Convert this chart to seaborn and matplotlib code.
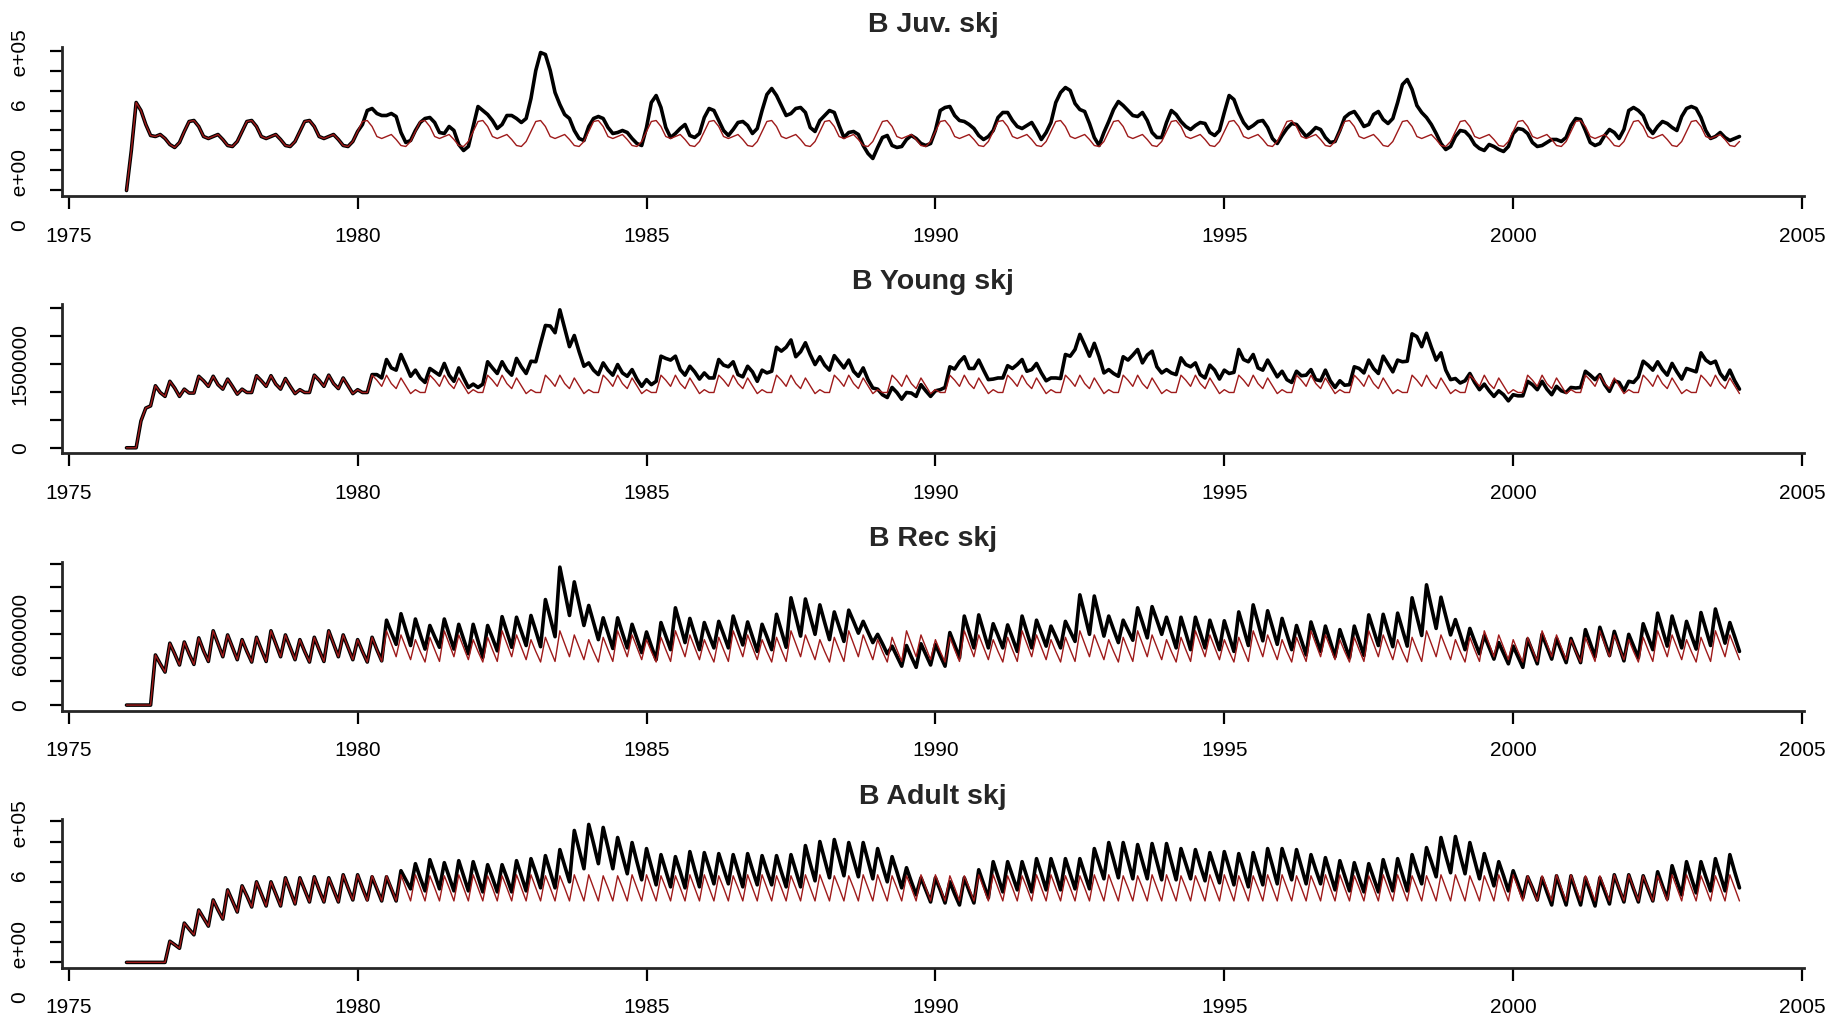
import numpy as np
import pandas as pd
import seaborn as sns
import matplotlib
matplotlib.use("Agg")
import matplotlib.pyplot as plt


#%% Data: monthly biomass, Jan 1976 - Dec 2003
# black = observed run, red = model run; identical for 1976-1979

Start_Year = 1976

# Juveniles (units of 1e5)
Juv_1976_1979 = [
    0.0, 2.0, 4.4, 4.0, 3.3, 2.75, 2.7, 2.8, 2.6, 2.3, 2.15, 2.4,
    2.95, 3.45, 3.5, 3.2, 2.7, 2.6, 2.7, 2.8, 2.55, 2.25, 2.2, 2.45,
    2.95, 3.45, 3.5, 3.2, 2.7, 2.6, 2.7, 2.8, 2.55, 2.25, 2.2, 2.45,
    2.95, 3.45, 3.5, 3.2, 2.7, 2.6, 2.7, 2.8, 2.55, 2.25, 2.2, 2.45,
]

Juv_Model_1980_2003 = [
    2.95, 3.45, 3.5, 3.2, 2.7, 2.6, 2.7, 2.8, 2.55, 2.25, 2.2, 2.45,
    2.95, 3.45, 3.5, 3.2, 2.7, 2.6, 2.7, 2.8, 2.55, 2.25, 2.2, 2.45,
    2.95, 3.45, 3.5, 3.2, 2.7, 2.6, 2.7, 2.8, 2.55, 2.25, 2.2, 2.45,
    2.95, 3.45, 3.5, 3.2, 2.7, 2.6, 2.7, 2.8, 2.55, 2.25, 2.2, 2.45,
    2.95, 3.45, 3.5, 3.2, 2.7, 2.6, 2.7, 2.8, 2.55, 2.25, 2.2, 2.45,
    2.95, 3.45, 3.5, 3.2, 2.7, 2.6, 2.7, 2.8, 2.55, 2.25, 2.2, 2.45,
    2.95, 3.45, 3.5, 3.2, 2.7, 2.6, 2.7, 2.8, 2.55, 2.25, 2.2, 2.45,
    2.95, 3.45, 3.5, 3.2, 2.7, 2.6, 2.7, 2.8, 2.55, 2.25, 2.2, 2.45,
    2.95, 3.45, 3.5, 3.2, 2.7, 2.6, 2.7, 2.8, 2.55, 2.25, 2.2, 2.45,
    2.95, 3.45, 3.5, 3.2, 2.7, 2.6, 2.7, 2.8, 2.55, 2.25, 2.2, 2.45,
    2.95, 3.45, 3.5, 3.2, 2.7, 2.6, 2.7, 2.8, 2.55, 2.25, 2.2, 2.45,
    2.95, 3.45, 3.5, 3.2, 2.7, 2.6, 2.7, 2.8, 2.55, 2.25, 2.2, 2.45,
    2.95, 3.45, 3.5, 3.2, 2.7, 2.6, 2.7, 2.8, 2.55, 2.25, 2.2, 2.45,
    2.95, 3.45, 3.5, 3.2, 2.7, 2.6, 2.7, 2.8, 2.55, 2.25, 2.2, 2.45,
    2.95, 3.45, 3.5, 3.2, 2.7, 2.6, 2.7, 2.8, 2.55, 2.25, 2.2, 2.45,
    2.95, 3.45, 3.5, 3.2, 2.7, 2.6, 2.7, 2.8, 2.55, 2.25, 2.2, 2.45,
    2.95, 3.45, 3.5, 3.2, 2.7, 2.6, 2.7, 2.8, 2.55, 2.25, 2.2, 2.45,
    2.95, 3.45, 3.5, 3.2, 2.7, 2.6, 2.7, 2.8, 2.55, 2.25, 2.2, 2.45,
    2.95, 3.45, 3.5, 3.2, 2.7, 2.6, 2.7, 2.8, 2.55, 2.25, 2.2, 2.45,
    2.95, 3.45, 3.5, 3.2, 2.7, 2.6, 2.7, 2.8, 2.55, 2.25, 2.2, 2.45,
    2.95, 3.45, 3.5, 3.2, 2.7, 2.6, 2.7, 2.8, 2.55, 2.25, 2.2, 2.45,
    2.95, 3.45, 3.5, 3.2, 2.7, 2.6, 2.7, 2.8, 2.55, 2.25, 2.2, 2.45,
    2.95, 3.45, 3.5, 3.2, 2.7, 2.6, 2.7, 2.8, 2.55, 2.25, 2.2, 2.45,
    2.95, 3.45, 3.5, 3.2, 2.7, 2.6, 2.7, 2.8, 2.55, 2.25, 2.2, 2.45,
]

Juv_Obs_1980_2003 = [
    2.95, 3.3, 4.0, 4.1, 3.85, 3.75, 3.75, 3.85, 3.7, 2.9, 2.4, 2.5,
    3.0, 3.4, 3.6, 3.65, 3.4, 2.9, 2.85, 3.2, 3.0, 2.3, 2.0, 2.2,
    3.2, 4.2, 4.0, 3.8, 3.5, 3.1, 3.3, 3.75, 3.75, 3.6, 3.4, 3.6,
    4.6, 6.0, 6.9, 6.8, 6.0, 4.9, 4.3, 3.8, 3.6, 3.0, 2.6, 2.5,
    3.2, 3.6, 3.7, 3.6, 3.15, 2.85, 2.9, 3.0, 2.9, 2.6, 2.35, 2.25,
    3.15, 4.4, 4.75, 4.15, 3.15, 2.65, 2.85, 3.1, 3.3, 2.75, 2.65, 2.85,
    3.65, 4.1, 4.0, 3.5, 3.0, 2.75, 3.05, 3.4, 3.45, 3.25, 2.85, 3.1,
    4.0, 4.8, 5.1, 4.75, 4.25, 3.75, 3.85, 4.1, 4.15, 3.9, 3.15, 2.95,
    3.5, 3.75, 4.0, 3.9, 3.25, 2.65, 2.9, 2.95, 2.8, 2.25, 1.85, 1.6,
    2.15, 2.65, 2.75, 2.25, 2.15, 2.2, 2.55, 2.75, 2.6, 2.35, 2.25, 2.35,
    3.0, 4.0, 4.15, 4.2, 3.75, 3.5, 3.45, 3.3, 3.1, 2.75, 2.55, 2.7,
    3.0, 3.65, 3.9, 3.9, 3.5, 3.2, 3.1, 3.25, 3.4, 3.0, 2.55, 2.9,
    3.4, 4.4, 4.9, 5.15, 5.0, 4.35, 4.05, 3.95, 3.35, 2.65, 2.25, 2.9,
    3.45, 4.05, 4.45, 4.25, 4.0, 3.75, 3.7, 3.9, 3.5, 2.9, 2.65, 2.65,
    3.4, 4.0, 3.8, 3.45, 3.2, 3.05, 3.25, 3.4, 3.35, 2.9, 2.75, 3.0,
    3.9, 4.75, 4.55, 3.9, 3.4, 3.1, 3.25, 3.45, 3.5, 3.15, 2.6, 2.35,
    2.75, 3.1, 3.35, 3.3, 3.0, 2.7, 2.9, 3.15, 3.05, 2.65, 2.4, 2.45,
    3.0, 3.65, 3.85, 3.95, 3.6, 3.2, 3.3, 3.8, 3.95, 3.55, 3.35, 3.6,
    4.4, 5.3, 5.55, 5.05, 4.25, 3.9, 3.65, 3.3, 2.85, 2.35, 2.05, 2.2,
    2.7, 3.0, 2.95, 2.7, 2.3, 2.1, 2.0, 2.3, 2.2, 2.05, 1.95, 2.2,
    2.85, 3.1, 3.05, 2.85, 2.4, 2.2, 2.25, 2.4, 2.55, 2.55, 2.45, 2.65,
    3.25, 3.6, 3.55, 3.0, 2.4, 2.25, 2.35, 2.75, 3.05, 2.9, 2.6, 3.05,
    4.0, 4.15, 4.0, 3.75, 3.15, 2.85, 3.2, 3.45, 3.35, 3.15, 3.0, 3.7,
    4.1, 4.2, 4.1, 3.65, 3.0, 2.6, 2.7, 2.9, 2.65, 2.5, 2.6, 2.7,
]

# Young (units of 1e5)
Young_1976_1979 = [
    0.0, 0.0, 0.0, 4.8, 7.1, 7.5, 11.1, 9.9, 9.2, 11.9, 10.7, 9.2,
    10.5, 9.8, 9.8, 12.8, 12.0, 11.0, 12.8, 11.3, 10.5, 12.3, 11.0, 9.6,
    10.5, 9.9, 9.9, 12.9, 12.0, 11.0, 12.9, 11.4, 10.5, 12.4, 11.0, 9.7,
    10.4, 9.9, 9.9, 13.0, 12.1, 11.0, 13.0, 11.5, 10.6, 12.5, 11.1, 9.7,
]

Young_Model_1980_2003 = [
    10.4, 9.9, 9.9, 13.0, 12.1, 11.0, 13.0, 11.5, 10.6, 12.5, 11.1, 9.7,
    10.4, 9.9, 9.9, 13.0, 12.1, 11.0, 13.0, 11.5, 10.6, 12.5, 11.1, 9.7,
    10.4, 9.9, 9.9, 13.0, 12.1, 11.0, 13.0, 11.5, 10.6, 12.5, 11.1, 9.7,
    10.4, 9.9, 9.9, 13.0, 12.1, 11.0, 13.0, 11.5, 10.6, 12.5, 11.1, 9.7,
    10.4, 9.9, 9.9, 13.0, 12.1, 11.0, 13.0, 11.5, 10.6, 12.5, 11.1, 9.7,
    10.4, 9.9, 9.9, 13.0, 12.1, 11.0, 13.0, 11.5, 10.6, 12.5, 11.1, 9.7,
    10.4, 9.9, 9.9, 13.0, 12.1, 11.0, 13.0, 11.5, 10.6, 12.5, 11.1, 9.7,
    10.4, 9.9, 9.9, 13.0, 12.1, 11.0, 13.0, 11.5, 10.6, 12.5, 11.1, 9.7,
    10.4, 9.9, 9.9, 13.0, 12.1, 11.0, 13.0, 11.5, 10.6, 12.5, 11.1, 9.7,
    10.4, 9.9, 9.9, 13.0, 12.1, 11.0, 13.0, 11.5, 10.6, 12.5, 11.1, 9.7,
    10.4, 9.9, 9.9, 13.0, 12.1, 11.0, 13.0, 11.5, 10.6, 12.5, 11.1, 9.7,
    10.4, 9.9, 9.9, 13.0, 12.1, 11.0, 13.0, 11.5, 10.6, 12.5, 11.1, 9.7,
    10.4, 9.9, 9.9, 13.0, 12.1, 11.0, 13.0, 11.5, 10.6, 12.5, 11.1, 9.7,
    10.4, 9.9, 9.9, 13.0, 12.1, 11.0, 13.0, 11.5, 10.6, 12.5, 11.1, 9.7,
    10.4, 9.9, 9.9, 13.0, 12.1, 11.0, 13.0, 11.5, 10.6, 12.5, 11.1, 9.7,
    10.4, 9.9, 9.9, 13.0, 12.1, 11.0, 13.0, 11.5, 10.6, 12.5, 11.1, 9.7,
    10.4, 9.9, 9.9, 13.0, 12.1, 11.0, 13.0, 11.5, 10.6, 12.5, 11.1, 9.7,
    10.4, 9.9, 9.9, 13.0, 12.1, 11.0, 13.0, 11.5, 10.6, 12.5, 11.1, 9.7,
    10.4, 9.9, 9.9, 13.0, 12.1, 11.0, 13.0, 11.5, 10.6, 12.5, 11.1, 9.7,
    10.4, 9.9, 9.9, 13.0, 12.1, 11.0, 13.0, 11.5, 10.6, 12.5, 11.1, 9.7,
    10.4, 9.9, 9.9, 13.0, 12.1, 11.0, 13.0, 11.5, 10.6, 12.5, 11.1, 9.7,
    10.4, 9.9, 9.9, 13.0, 12.1, 11.0, 13.0, 11.5, 10.6, 12.5, 11.1, 9.7,
    10.4, 9.9, 9.9, 13.0, 12.1, 11.0, 13.0, 11.5, 10.6, 12.5, 11.1, 9.7,
    10.4, 9.9, 9.9, 13.0, 12.1, 11.0, 13.0, 11.5, 10.6, 12.5, 11.1, 9.7,
]

Young_Obs_1980_2003 = [
    10.4, 9.9, 9.9, 13.1, 13.1, 12.5, 15.8, 14.3, 13.9, 16.7, 14.8, 12.8,
    13.9, 12.5, 11.7, 14.2, 13.6, 13.0, 15.1, 13.0, 11.9, 14.3, 12.5, 10.8,
    11.4, 10.8, 11.4, 15.4, 14.3, 13.3, 15.4, 13.9, 13.0, 16.0, 14.5, 13.3,
    15.5, 15.4, 18.7, 21.9, 21.8, 20.6, 24.7, 21.4, 18.1, 20.1, 17.2, 14.6,
    15.2, 13.9, 13.1, 15.2, 13.9, 13.0, 14.9, 13.4, 12.8, 14.0, 12.3, 11.0,
    12.2, 11.3, 11.9, 16.4, 16.0, 15.7, 16.4, 14.0, 13.0, 14.6, 13.6, 12.3,
    13.4, 12.5, 12.5, 15.8, 14.8, 14.5, 15.4, 13.1, 12.7, 14.6, 13.6, 11.9,
    13.9, 13.4, 13.7, 18.0, 17.3, 18.0, 19.3, 16.3, 17.2, 18.8, 16.7, 14.9,
    16.3, 14.8, 13.9, 16.5, 15.4, 14.3, 15.7, 13.7, 12.8, 14.3, 12.2, 10.7,
    10.5, 9.5, 9.0, 10.8, 9.9, 8.7, 9.9, 9.8, 9.2, 11.3, 10.2, 9.2,
    10.2, 10.4, 10.8, 14.5, 14.1, 15.4, 16.3, 14.2, 14.2, 15.7, 13.9, 12.2,
    12.3, 12.5, 12.5, 14.7, 14.2, 14.9, 15.8, 13.7, 14.0, 15.1, 13.4, 12.0,
    12.5, 12.5, 12.4, 16.7, 16.4, 17.6, 20.3, 18.4, 16.4, 18.7, 16.3, 13.4,
    14.0, 13.3, 12.8, 16.3, 15.7, 16.6, 17.6, 15.2, 16.6, 17.3, 14.5, 13.4,
    14.0, 13.4, 13.1, 16.1, 14.9, 14.5, 15.2, 13.1, 12.5, 14.8, 13.9, 12.3,
    13.9, 13.3, 13.5, 17.6, 15.8, 15.4, 16.7, 14.3, 13.9, 15.7, 14.2, 12.7,
    13.7, 12.2, 11.7, 13.7, 12.9, 13.0, 14.0, 12.2, 12.0, 13.9, 12.0, 10.8,
    12.0, 11.2, 11.3, 14.5, 14.2, 13.4, 15.7, 14.2, 13.3, 16.4, 15.0, 13.6,
    15.7, 15.4, 15.5, 20.4, 19.9, 18.1, 20.5, 18.0, 15.7, 17.0, 13.9, 12.2,
    12.4, 11.6, 12.0, 13.3, 11.7, 10.4, 11.4, 10.2, 9.2, 10.2, 9.5, 8.4,
    9.5, 9.3, 9.3, 11.9, 11.3, 10.4, 11.9, 10.5, 9.5, 11.0, 10.2, 9.9,
    10.8, 10.7, 10.8, 13.7, 13.0, 12.2, 13.1, 11.3, 10.1, 12.0, 11.7, 10.2,
    11.9, 11.7, 12.7, 15.5, 14.8, 13.9, 15.4, 14.0, 13.0, 15.1, 13.6, 12.3,
    14.2, 13.9, 13.6, 17.0, 15.7, 15.1, 15.5, 13.3, 12.2, 13.9, 12.0, 10.5,
]

# Recruits (units of 1e6)
Rec_1976_1979 = [
    0.0, 0.0, 0.0, 0.0, 0.0, 0.0, 4.25, 3.5, 2.8, 5.25, 4.35, 3.4,
    5.35, 4.35, 3.45, 5.7, 4.6, 3.7, 6.3, 5.2, 4.1, 5.95, 4.9, 3.85,
    5.55, 4.55, 3.65, 5.75, 4.7, 3.7, 6.3, 5.2, 4.1, 5.95, 4.9, 3.85,
    5.55, 4.55, 3.65, 5.75, 4.7, 3.7, 6.3, 5.2, 4.1, 5.95, 4.9, 3.85,
]

Rec_Model_1980_2003 = [
    5.55, 4.55, 3.65, 5.75, 4.7, 3.7, 6.3, 5.2, 4.1, 5.95, 4.9, 3.85,
    5.55, 4.55, 3.65, 5.75, 4.7, 3.7, 6.3, 5.2, 4.1, 5.95, 4.9, 3.85,
    5.55, 4.55, 3.65, 5.75, 4.7, 3.7, 6.3, 5.2, 4.1, 5.95, 4.9, 3.85,
    5.55, 4.55, 3.65, 5.75, 4.7, 3.7, 6.3, 5.2, 4.1, 5.95, 4.9, 3.85,
    5.55, 4.55, 3.65, 5.75, 4.7, 3.7, 6.3, 5.2, 4.1, 5.95, 4.9, 3.85,
    5.55, 4.55, 3.65, 5.75, 4.7, 3.7, 6.3, 5.2, 4.1, 5.95, 4.9, 3.85,
    5.55, 4.55, 3.65, 5.75, 4.7, 3.7, 6.3, 5.2, 4.1, 5.95, 4.9, 3.85,
    5.55, 4.55, 3.65, 5.75, 4.7, 3.7, 6.3, 5.2, 4.1, 5.95, 4.9, 3.85,
    5.55, 4.55, 3.65, 5.75, 4.7, 3.7, 6.3, 5.2, 4.1, 5.95, 4.9, 3.85,
    5.55, 4.55, 3.65, 5.75, 4.7, 3.7, 6.3, 5.2, 4.1, 5.95, 4.9, 3.85,
    5.55, 4.55, 3.65, 5.75, 4.7, 3.7, 6.3, 5.2, 4.1, 5.95, 4.9, 3.85,
    5.55, 4.55, 3.65, 5.75, 4.7, 3.7, 6.3, 5.2, 4.1, 5.95, 4.9, 3.85,
    5.55, 4.55, 3.65, 5.75, 4.7, 3.7, 6.3, 5.2, 4.1, 5.95, 4.9, 3.85,
    5.55, 4.55, 3.65, 5.75, 4.7, 3.7, 6.3, 5.2, 4.1, 5.95, 4.9, 3.85,
    5.55, 4.55, 3.65, 5.75, 4.7, 3.7, 6.3, 5.2, 4.1, 5.95, 4.9, 3.85,
    5.55, 4.55, 3.65, 5.75, 4.7, 3.7, 6.3, 5.2, 4.1, 5.95, 4.9, 3.85,
    5.55, 4.55, 3.65, 5.75, 4.7, 3.7, 6.3, 5.2, 4.1, 5.95, 4.9, 3.85,
    5.55, 4.55, 3.65, 5.75, 4.7, 3.7, 6.3, 5.2, 4.1, 5.95, 4.9, 3.85,
    5.55, 4.55, 3.65, 5.75, 4.7, 3.7, 6.3, 5.2, 4.1, 5.95, 4.9, 3.85,
    5.55, 4.55, 3.65, 5.75, 4.7, 3.7, 6.3, 5.2, 4.1, 5.95, 4.9, 3.85,
    5.55, 4.55, 3.65, 5.75, 4.7, 3.7, 6.3, 5.2, 4.1, 5.95, 4.9, 3.85,
    5.55, 4.55, 3.65, 5.75, 4.7, 3.7, 6.3, 5.2, 4.1, 5.95, 4.9, 3.85,
    5.55, 4.55, 3.65, 5.75, 4.7, 3.7, 6.3, 5.2, 4.1, 5.95, 4.9, 3.85,
    5.55, 4.55, 3.65, 5.75, 4.7, 3.7, 6.3, 5.2, 4.1, 5.95, 4.9, 3.85,
]

Rec_Obs_1980_2003 = [
    5.55, 4.55, 3.65, 5.75, 4.7, 3.75, 7.2, 6.15, 5.15, 7.75, 6.4, 5.05,
    7.3, 6.0, 4.75, 6.75, 5.8, 4.9, 7.3, 6.0, 4.75, 6.85, 5.6, 4.35,
    6.85, 5.45, 4.05, 6.75, 5.7, 4.6, 7.5, 6.2, 4.9, 7.45, 6.25, 5.05,
    7.6, 6.3, 4.95, 8.95, 7.4, 5.8, 11.7, 9.65, 7.6, 10.45, 8.6, 6.75,
    8.45, 7.0, 5.55, 7.4, 6.1, 4.8, 7.4, 6.1, 4.85, 6.85, 5.65, 4.45,
    6.2, 5.0, 3.85, 7.0, 5.85, 4.7, 8.25, 6.8, 5.3, 7.35, 6.0, 4.7,
    7.0, 5.9, 4.85, 7.1, 6.0, 4.85, 7.55, 6.3, 5.1, 7.05, 5.8, 4.55,
    6.85, 5.8, 4.7, 7.7, 6.3, 4.9, 9.1, 7.5, 5.85, 9.0, 7.5, 6.0,
    8.5, 7.0, 5.55, 7.9, 6.65, 5.4, 8.05, 7.1, 6.1, 7.1, 6.2, 5.3,
    6.0, 5.2, 4.35, 5.0, 4.15, 3.3, 5.05, 4.1, 3.2, 5.2, 4.3, 3.4,
    5.15, 4.2, 3.3, 6.15, 5.1, 4.0, 7.55, 6.2, 4.85, 7.65, 6.25, 4.85,
    6.9, 5.9, 4.85, 6.8, 5.7, 4.55, 7.55, 6.2, 4.85, 7.2, 6.1, 5.0,
    6.7, 5.8, 4.85, 7.1, 6.25, 5.4, 9.35, 7.7, 6.0, 9.25, 7.55, 5.85,
    7.55, 6.4, 5.3, 7.2, 6.35, 5.5, 8.25, 7.0, 5.7, 8.35, 7.2, 6.0,
    7.45, 6.15, 4.85, 7.45, 6.1, 4.7, 7.45, 6.15, 4.85, 7.2, 5.95, 4.7,
    7.15, 5.85, 4.55, 7.9, 6.5, 5.05, 8.5, 7.0, 5.45, 8.0, 6.6, 5.15,
    7.35, 6.0, 4.7, 6.75, 5.5, 4.25, 7.05, 5.8, 4.55, 6.7, 5.4, 4.1,
    6.4, 5.2, 4.0, 6.7, 5.45, 4.2, 7.65, 6.35, 5.05, 7.7, 6.3, 4.95,
    7.8, 6.4, 5.0, 9.1, 7.5, 5.9, 10.2, 8.35, 6.5, 9.15, 7.55, 5.95,
    7.25, 6.0, 4.7, 6.5, 5.4, 4.35, 5.9, 4.9, 3.9, 5.3, 4.4, 3.5,
    5.0, 4.1, 3.2, 5.6, 4.55, 3.5, 6.0, 4.95, 3.9, 5.65, 4.6, 3.6,
    5.65, 4.6, 3.6, 6.4, 5.25, 4.1, 6.6, 5.4, 4.2, 6.25, 5.0, 3.75,
    6.0, 5.0, 4.0, 6.9, 5.8, 4.7, 7.8, 6.4, 5.0, 7.55, 6.2, 4.85,
    7.1, 5.9, 4.75, 7.85, 6.45, 5.05, 8.15, 6.7, 5.25, 7.0, 5.8, 4.55,
]

# Adults (units of 1e5)
Adult_1976_1979 = [
    0.0, 0.0, 0.0, 0.0, 0.0, 0.0, 0.0, 0.0, 0.0, 1.05, 0.88, 0.7,
    1.95, 1.65, 1.37, 2.6, 2.2, 1.8, 3.1, 2.6, 2.15, 3.6, 3.05, 2.5,
    3.8, 3.3, 2.75, 4.0, 3.4, 2.8, 4.0, 3.4, 2.8, 4.2, 3.55, 2.9,
    4.2, 3.6, 3.0, 4.25, 3.6, 3.0, 4.2, 3.6, 3.0, 4.35, 3.7, 3.1,
]

Adult_Model_1980_2003 = [
    4.35, 3.7, 3.05, 4.3, 3.7, 3.05, 4.3, 3.7, 3.05, 4.35, 3.7, 3.05,
    4.35, 3.7, 3.05, 4.3, 3.7, 3.05, 4.3, 3.7, 3.05, 4.35, 3.7, 3.05,
    4.35, 3.7, 3.05, 4.3, 3.7, 3.05, 4.3, 3.7, 3.05, 4.35, 3.7, 3.05,
    4.35, 3.7, 3.05, 4.3, 3.7, 3.05, 4.3, 3.7, 3.05, 4.35, 3.7, 3.05,
    4.35, 3.7, 3.05, 4.3, 3.7, 3.05, 4.3, 3.7, 3.05, 4.35, 3.7, 3.05,
    4.35, 3.7, 3.05, 4.3, 3.7, 3.05, 4.3, 3.7, 3.05, 4.35, 3.7, 3.05,
    4.35, 3.7, 3.05, 4.3, 3.7, 3.05, 4.3, 3.7, 3.05, 4.35, 3.7, 3.05,
    4.35, 3.7, 3.05, 4.3, 3.7, 3.05, 4.3, 3.7, 3.05, 4.35, 3.7, 3.05,
    4.35, 3.7, 3.05, 4.3, 3.7, 3.05, 4.3, 3.7, 3.05, 4.35, 3.7, 3.05,
    4.35, 3.7, 3.05, 4.3, 3.7, 3.05, 4.3, 3.7, 3.05, 4.35, 3.7, 3.05,
    4.35, 3.7, 3.05, 4.3, 3.7, 3.05, 4.3, 3.7, 3.05, 4.35, 3.7, 3.05,
    4.35, 3.7, 3.05, 4.3, 3.7, 3.05, 4.3, 3.7, 3.05, 4.35, 3.7, 3.05,
    4.35, 3.7, 3.05, 4.3, 3.7, 3.05, 4.3, 3.7, 3.05, 4.35, 3.7, 3.05,
    4.35, 3.7, 3.05, 4.3, 3.7, 3.05, 4.3, 3.7, 3.05, 4.35, 3.7, 3.05,
    4.35, 3.7, 3.05, 4.3, 3.7, 3.05, 4.3, 3.7, 3.05, 4.35, 3.7, 3.05,
    4.35, 3.7, 3.05, 4.3, 3.7, 3.05, 4.3, 3.7, 3.05, 4.35, 3.7, 3.05,
    4.35, 3.7, 3.05, 4.3, 3.7, 3.05, 4.3, 3.7, 3.05, 4.35, 3.7, 3.05,
    4.35, 3.7, 3.05, 4.3, 3.7, 3.05, 4.3, 3.7, 3.05, 4.35, 3.7, 3.05,
    4.35, 3.7, 3.05, 4.3, 3.7, 3.05, 4.3, 3.7, 3.05, 4.35, 3.7, 3.05,
    4.35, 3.7, 3.05, 4.3, 3.7, 3.05, 4.3, 3.7, 3.05, 4.35, 3.7, 3.05,
    4.35, 3.7, 3.05, 4.3, 3.7, 3.05, 4.3, 3.7, 3.05, 4.35, 3.7, 3.05,
    4.35, 3.7, 3.05, 4.3, 3.7, 3.05, 4.3, 3.7, 3.05, 4.35, 3.7, 3.05,
    4.35, 3.7, 3.05, 4.3, 3.7, 3.05, 4.3, 3.7, 3.05, 4.35, 3.7, 3.05,
    4.35, 3.7, 3.05, 4.3, 3.7, 3.05, 4.3, 3.7, 3.05, 4.35, 3.7, 3.05,
]

Adult_Obs_1980_2003 = [
    4.35, 3.7, 3.1, 4.25, 3.65, 3.05, 4.25, 3.65, 3.05, 4.55, 4.1, 3.65,
    4.9, 4.2, 3.55, 5.1, 4.4, 3.65, 4.95, 4.25, 3.55, 5.05, 4.3, 3.55,
    5.0, 4.25, 3.5, 4.85, 4.2, 3.5, 4.85, 4.2, 3.5, 5.05, 4.3, 3.55,
    5.15, 4.45, 3.7, 5.3, 4.5, 3.7, 5.6, 4.8, 4.0, 6.55, 5.6, 4.65,
    6.85, 5.9, 4.9, 6.7, 5.7, 4.65, 6.2, 5.3, 4.4, 5.95, 5.0, 4.1,
    5.65, 4.75, 3.85, 5.35, 4.55, 3.75, 5.25, 4.5, 3.7, 5.5, 4.6, 3.75,
    5.45, 4.7, 3.9, 5.4, 4.65, 3.9, 5.35, 4.55, 3.75, 5.4, 4.6, 3.85,
    5.3, 4.55, 3.85, 5.3, 4.5, 3.75, 5.35, 4.55, 3.75, 5.8, 4.9, 4.05,
    6.0, 5.1, 4.2, 6.1, 5.2, 4.3, 5.95, 5.1, 4.25, 5.95, 5.05, 4.15,
    5.65, 4.8, 4.0, 5.25, 4.5, 3.7, 4.7, 4.0, 3.35, 4.2, 3.6, 3.0,
    4.2, 3.6, 2.95, 4.0, 3.4, 2.85, 4.2, 3.55, 2.95, 4.6, 3.9, 3.2,
    5.0, 4.25, 3.5, 5.0, 4.3, 3.6, 5.0, 4.25, 3.5, 5.15, 4.4, 3.6,
    5.15, 4.4, 3.6, 5.15, 4.4, 3.65, 5.15, 4.4, 3.65, 5.65, 4.9, 4.15,
    5.95, 5.1, 4.2, 5.95, 5.05, 4.15, 5.85, 5.0, 4.15, 5.9, 5.0, 4.1,
    5.9, 5.0, 4.1, 5.65, 4.9, 4.15, 5.6, 4.8, 4.05, 5.45, 4.7, 3.95,
    5.5, 4.7, 3.85, 5.4, 4.6, 3.75, 5.45, 4.65, 3.85, 5.65, 4.8, 3.9,
    5.65, 4.9, 4.1, 5.6, 4.75, 3.9, 5.35, 4.6, 3.9, 5.2, 4.4, 3.6,
    5.05, 4.3, 3.55, 4.95, 4.2, 3.5, 4.9, 4.2, 3.5, 5.1, 4.3, 3.55,
    5.15, 4.35, 3.55, 5.35, 4.6, 3.9, 5.7, 5.0, 4.25, 6.2, 5.3, 4.45,
    6.25, 5.3, 4.4, 5.95, 5.05, 4.15, 5.4, 4.6, 3.8, 5.0, 4.3, 3.55,
    4.55, 3.9, 3.2, 4.25, 3.7, 3.1, 4.2, 3.5, 2.85, 4.3, 3.55, 2.85,
    4.3, 3.55, 2.85, 4.2, 3.5, 2.8, 4.2, 3.55, 2.9, 4.35, 3.65, 3.0,
    4.35, 3.65, 3.0, 4.3, 3.65, 3.05, 4.5, 3.8, 3.15, 4.8, 4.05, 3.35,
    5.0, 4.2, 3.45, 5.0, 4.25, 3.55, 5.15, 4.35, 3.55, 5.35, 4.5, 3.7,
]

Titles = ["B Juv. skj", "B Young skj", "B Rec skj", "B Adult skj"]
Units  = [1e5, 1e5, 1e6, 1e5]

# tick marks, only some carry a label (the rest were dropped for overlap)
Juv_YTicks       = [0, 1e5, 2e5, 3e5, 4e5, 5e5, 6e5, 7e5]
Juv_YTickLabels  = ["0    e+00", "", "", "", "", "", "6    e+05", ""]
Young_YTicks      = [0, 5e5, 1e6, 1.5e6, 2e6, 2.5e6]
Young_YTickLabels = ["0", "", "", "1500000", "", ""]
Rec_YTicks        = [0, 2e6, 4e6, 6e6, 8e6, 1e7, 1.2e7]
Rec_YTickLabels   = ["0", "", "", "6000000", "", "", ""]
Adult_YTicks      = [0, 1e5, 2e5, 3e5, 4e5, 5e5, 6e5, 7e5]
Adult_YTickLabels = ["0    e+00", "", "", "", "", "", "6    e+05", ""]

XTicks = [1975, 1980, 1985, 1990, 1995, 2000, 2005]


#%% build long tables
Panels = []
for Title, Unit, Spin, Model, Obs, YT, YTL in zip(
        Titles, Units,
        [Juv_1976_1979, Young_1976_1979, Rec_1976_1979, Adult_1976_1979],
        [Juv_Model_1980_2003, Young_Model_1980_2003, Rec_Model_1980_2003, Adult_Model_1980_2003],
        [Juv_Obs_1980_2003, Young_Obs_1980_2003, Rec_Obs_1980_2003, Adult_Obs_1980_2003],
        [Juv_YTicks, Young_YTicks, Rec_YTicks, Adult_YTicks],
        [Juv_YTickLabels, Young_YTickLabels, Rec_YTickLabels, Adult_YTickLabels]):

    Obs_Values   = np.array(Spin + Obs) * Unit
    Model_Values = np.array(Spin + Model) * Unit
    Year = Start_Year + np.arange(len(Obs_Values)) / 12

    df = pd.concat([pd.DataFrame({"Year": Year, "B": Obs_Values, "Run": "obs"}),
                    pd.DataFrame({"Year": Year, "B": Model_Values, "Run": "model"})],
                   ignore_index=True)
    Panels.append((Title, df, YT, YTL))


#%% figure
sns.set_theme(style="ticks")
plt.rcParams["font.family"] = ["Liberation Sans", "DejaVu Sans"]

Fig_Width   = 18.49
Fig_Height  = 10.22
Dpi         = 100

Color_Obs   = "black"
Color_Model = "#9E1A1A"
LW_Obs      = 2.6
LW_Model    = 1.0

Axis_LineWidth  = 2.0
Tick_Length     = 9
FontSize_Tick   = 15
FontSize_Title  = 20.5

# axes placement in pixels (four stacked panels)
Panel_Step  = 257.3
Plot_Top    = 47
Plot_Bottom = 196
Plot_Left   = 62
Plot_Right  = 1804

Fig = plt.figure(figsize=[Fig_Width, Fig_Height], dpi=Dpi)

for i, (Title, df, YT, YTL) in enumerate(Panels):

    Top_px = Plot_Top + i * Panel_Step
    Bot_px = Plot_Bottom + i * Panel_Step
    ax = Fig.add_axes([Plot_Left / 1849, 1 - Bot_px / 1022,
                       (Plot_Right - Plot_Left) / 1849, (Bot_px - Top_px) / 1022])

    sns.lineplot(ax=ax, data=df[df.Run == "obs"], x="Year", y="B",
                 color=Color_Obs, linewidth=LW_Obs, estimator=None, sort=False)
    sns.lineplot(ax=ax, data=df[df.Run == "model"], x="Year", y="B",
                 color=Color_Model, linewidth=LW_Model, estimator=None, sort=False)

    # R style limits: data range + 4 %
    XMin, XMax = df.Year.min(), df.Year.max()
    ax.set_xlim(XMin - 0.04 * (XMax - XMin), XMax + 0.04 * (XMax - XMin))
    YMax = df.B.max()
    ax.set_ylim(-0.04 * YMax, 1.04 * YMax)

    ax.set_xticks(XTicks)
    ax.set_xticklabels([str(x) for x in XTicks], fontsize=FontSize_Tick)
    ax.set_yticks(YT)
    ax.set_yticklabels(YTL, fontsize=FontSize_Tick, rotation=90, va="center", ha="center")

    ax.set_xlabel("")
    ax.set_ylabel("")
    ax.set_title(Title, fontsize=FontSize_Title, fontweight="bold", pad=11)

    ax.spines[["right", "top"]].set_visible(False)
    ax.spines[["left", "bottom"]].set_linewidth(Axis_LineWidth)
    ax.tick_params(axis="both", direction="out", length=Tick_Length, width=1.6, colors="black")
    ax.tick_params(axis="x", pad=13)
    ax.tick_params(axis="y", pad=21)

Fig.savefig("out.png", dpi=Dpi)
